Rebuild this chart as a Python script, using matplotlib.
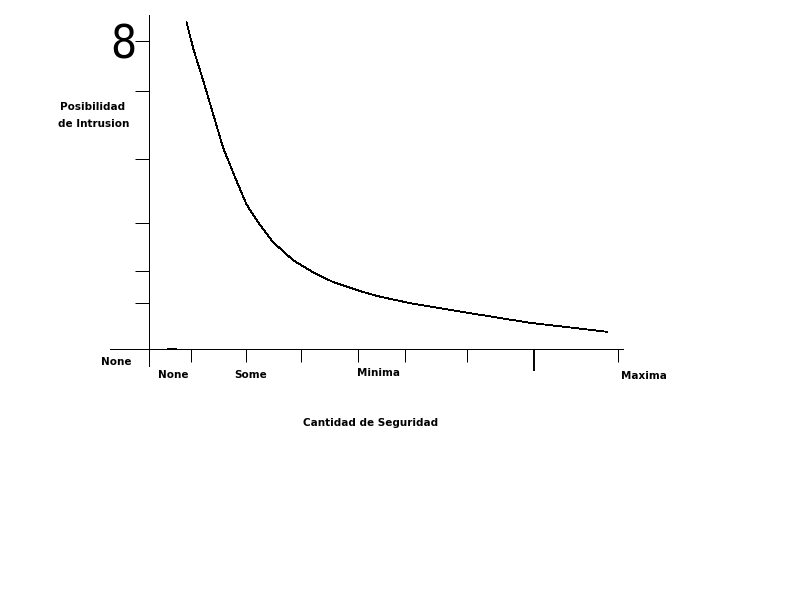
import numpy as np
import matplotlib
matplotlib.use("Agg")
import matplotlib.pyplot as plt

# curve (x: security, y: intrusion possibility)
seg_x = [0.80, 0.94, 1.16, 1.37, 1.58, 1.87, 2.08, 2.36, 2.64, 3.06, 3.49,
         3.91, 4.49, 4.91, 5.55, 6.68, 8.11, 9.74]
seg_y = [10.61, 9.76, 8.68, 7.60, 6.52, 5.43, 4.68, 4.03, 3.47, 2.89, 2.49,
         2.18, 1.88, 1.70, 1.49, 1.20, 0.85, 0.56]

xticks = [0.89, 2.06, 3.23, 4.45, 5.45, 6.77, 9.98]
xticks_long = [8.19]
yticks = [10.0, 8.38, 6.17, 4.09, 2.53, 1.49]

xlabels = ["None", "Some", "Minima", "Maxima"]
xlabel_pos = [0.52, 2.17, 4.88, 10.53]
xlabel_y = [-0.84, -0.84, -0.78, -0.88]

fig = plt.figure(figsize=(8, 6), dpi=100)
ax = fig.add_axes([0, 0, 1, 1])
ax.set_xlim(-149 / 47, 651 / 47)
ax.set_ylim(-251 / 30.8, 349 / 30.8)

for s in ["top", "right"]:
    ax.spines[s].set_visible(False)
ax.spines["left"].set_position(("data", 0))
ax.spines["bottom"].set_position(("data", 0))
ax.spines["left"].set_bounds(-0.55, 10.84)
ax.spines["bottom"].set_bounds(-0.82, 10.08)
for s in ["left", "bottom"]:
    ax.spines[s].set_linewidth(0.72)
    ax.spines[s].set_antialiased(False)

ax.set_xticks(xticks)
ax.set_xticks(xticks_long, minor=True)
ax.set_yticks(yticks)
ax.set_xticklabels([])
ax.set_yticklabels([])
ax.tick_params(axis="x", which="major", direction="out", length=9.5, width=0.72)
ax.tick_params(axis="x", which="minor", direction="out", length=16, width=1.4)
ax.tick_params(axis="y", which="major", direction="out", length=10, width=0.72)

ax.plot(seg_x, seg_y, color="black", lw=0.6, antialiased=False)
ax.plot([0.38, 0.57], [0.03, 0.03], color="black", lw=0.72, antialiased=False)

bold = dict(fontsize=7.5, fontweight="bold", color="black")
for lab, px, py in zip(xlabels, xlabel_pos, xlabel_y):
    ax.text(px, py, lab, ha="center", va="center", **bold)
ax.text(-0.69, -0.42, "None", ha="center", va="center", **bold)
ax.text(4.71, -2.40, "Cantidad de Seguridad", ha="center", va="center", **bold)
ax.text(-1.89, 7.87, "Posibilidad", ha="left", va="center", **bold)
ax.text(-1.94, 7.31, "de Intrusion", ha="left", va="center", **bold)
ax.text(-0.55, 10.0, "8", ha="center", va="center_baseline", fontsize=33,
        family="DejaVu Sans", fontstretch="condensed", color="black")

fig.savefig("out.png", dpi=100)
